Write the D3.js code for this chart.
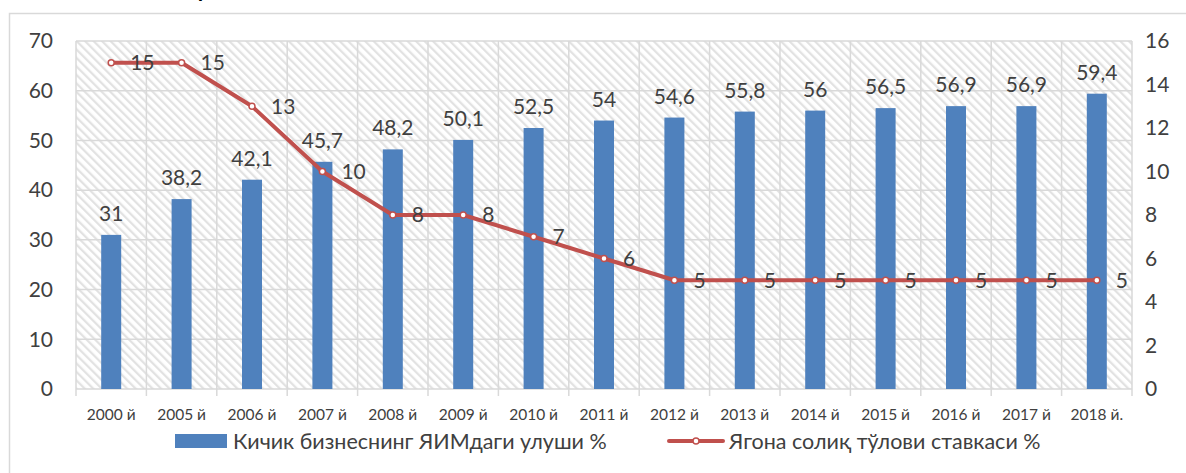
<!DOCTYPE html>
<html>
<head>
<meta charset="utf-8">
<script src="https://cdn.jsdelivr.net/npm/d3@7"></script>
<style>
  body { margin: 0; background: #fff; }
  text { font-family: Lato, "Open Sans", sans-serif; fill: #404040; }
</style>
</head>
<body>
<div id="graphicContainer"></div>
<script>

// chart data

var years = ["2000 й", "2005 й", "2006 й", "2007 й", "2008 й", "2009 й", "2010 й", "2011 й",
  "2012 й", "2013 й", "2014 й", "2015 й", "2016 й", "2017 й", "2018 й."];

var shareGdp = [31, 38.2, 42.1, 45.7, 48.2, 50.1, 52.5, 54, 54.6, 55.8, 56, 56.5, 56.9, 56.9, 59.4];

var taxRate = [15, 15, 13, 10, 8, 8, 7, 6, 5, 5, 5, 5, 5, 5, 5];

var leftTicks = [0, 10, 20, 30, 40, 50, 60, 70];
var rightTicks = [0, 2, 4, 6, 8, 10, 12, 14, 16];

var seriesNames = ["Кичик бизнеснинг ЯИМдаги улуши %", "Ягона солиқ тўлови ставкаси %"];

var barColour = "#4f81bd";
var lineColour = "#c0504d";
var gridColour = "#d9d9d9";

function fmt(v) {
  return String(v).replace(".", ",");
}

function draw_chart() {

  var width = 1186, height = 473;
  var margin = {top: 41, right: 54, bottom: 84, left: 76};

  var svg = d3.select("#graphicContainer").append("svg")
    .attr("width", width)
    .attr("height", height);

  // hatch pattern for the plot background (lines running down to the right)

  var defs = svg.append("defs");
  var pat = defs.append("pattern")
    .attr("id", "hatch")
    .attr("patternUnits", "userSpaceOnUse")
    .attr("width", 6)
    .attr("height", 6)
    .attr("patternTransform", "rotate(-45)");
  pat.append("rect").attr("width", 6).attr("height", 6).attr("fill", "#fff");
  pat.append("line")
    .attr("x1", 1).attr("y1", 0).attr("x2", 1).attr("y2", 6)
    .attr("stroke", "#e2e2e2")
    .attr("stroke-width", 2.5);

  // cut-off text from the page above the chart

  svg.append("text")
    .attr("x", 197).attr("y", -4)
    .attr("font-family", "Liberation Serif")
    .attr("font-size", 30)
    .style("fill", "#000")
    .text("р");

  // outer chart frame

  svg.append("rect")
    .attr("x", 9.5).attr("y", 13.5)
    .attr("width", 1200).attr("height", 500)
    .attr("fill", "none")
    .attr("stroke", "#d9d9d9")
    .attr("stroke-width", 1.5);

  var x = d3.scaleBand()
    .domain(years)
    .range([margin.left, width - margin.right]);

  var y = d3.scaleLinear()
    .domain([0, 70])
    .range([height - margin.bottom, margin.top]);

  var y2 = d3.scaleLinear()
    .domain([0, 16])
    .range([height - margin.bottom, margin.top]);

  var plotW = width - margin.right - margin.left;
  var plotH = height - margin.bottom - margin.top;

  svg.append("rect")
    .attr("x", margin.left)
    .attr("y", margin.top)
    .attr("width", plotW)
    .attr("height", plotH)
    .attr("fill", "url(#hatch)");

  // horizontal gridlines

  svg.append("g")
    .selectAll("line")
    .data(leftTicks)
    .enter()
    .append("line")
    .attr("x1", margin.left)
    .attr("x2", width - margin.right)
    .attr("y1", d => y(d))
    .attr("y2", d => y(d))
    .attr("stroke", gridColour)
    .attr("stroke-width", 1.5);

  // vertical gridlines at category boundaries, running past the axis as ticks

  var bounds = years.map(d => x(d)).concat([width - margin.right]);

  svg.append("g")
    .selectAll("line")
    .data(bounds)
    .enter()
    .append("line")
    .attr("x1", d => d)
    .attr("x2", d => d)
    .attr("y1", margin.top)
    .attr("y2", height - margin.bottom + 7)
    .attr("stroke", gridColour)
    .attr("stroke-width", 1.5);

  // axes labels

  svg.append("g")
    .selectAll("text")
    .data(leftTicks)
    .enter()
    .append("text")
    .attr("x", 53)
    .attr("y", d => y(d))
    .attr("dy", "0.35em")
    .attr("text-anchor", "end")
    .attr("font-size", 21)
    .text(d => d);

  svg.append("g")
    .selectAll("text")
    .data(rightTicks)
    .enter()
    .append("text")
    .attr("x", 1145)
    .attr("y", d => y2(d))
    .attr("dy", "0.35em")
    .attr("text-anchor", "start")
    .attr("font-size", 21)
    .text(d => d);

  svg.append("g")
    .selectAll("text")
    .data(years)
    .enter()
    .append("text")
    .attr("x", d => x(d) + x.bandwidth() / 2)
    .attr("y", 415)
    .attr("dy", "0.35em")
    .attr("text-anchor", "middle")
    .attr("font-size", 15.5)
    .text(d => d);

  // bars

  var barW = 20;

  svg.append("g")
    .selectAll("rect")
    .data(shareGdp)
    .enter()
    .append("rect")
    .attr("x", (d, i) => x(years[i]) + x.bandwidth() / 2 - barW / 2)
    .attr("y", d => y(d))
    .attr("width", barW)
    .attr("height", d => y(0) - y(d))
    .attr("fill", barColour);

  svg.append("g")
    .selectAll("text")
    .data(shareGdp)
    .enter()
    .append("text")
    .attr("x", (d, i) => x(years[i]) + x.bandwidth() / 2)
    .attr("y", d => y(d) - 14)
    .attr("text-anchor", "middle")
    .attr("font-size", 21)
    .text(d => fmt(d));

  // line series on the right axis

  var line = d3.line()
    .x((d, i) => x(years[i]) + x.bandwidth() / 2)
    .y(d => y2(d));

  svg.append("path")
    .datum(taxRate)
    .attr("d", line)
    .attr("fill", "none")
    .attr("stroke", lineColour)
    .attr("stroke-width", 4)
    .attr("stroke-linejoin", "round");

  svg.append("g")
    .selectAll("circle")
    .data(taxRate)
    .enter()
    .append("circle")
    .attr("cx", (d, i) => x(years[i]) + x.bandwidth() / 2)
    .attr("cy", d => y2(d))
    .attr("r", 3)
    .attr("fill", "#fff")
    .attr("stroke", lineColour)
    .attr("stroke-width", 1.5);

  svg.append("g")
    .selectAll("text")
    .data(taxRate)
    .enter()
    .append("text")
    .attr("x", (d, i) => x(years[i]) + x.bandwidth() / 2 + 19)
    .attr("y", d => y2(d))
    .attr("dy", "0.35em")
    .attr("text-anchor", "start")
    .attr("font-size", 21)
    .text(d => d);

  // legend

  var legend = svg.append("g");

  legend.append("rect")
    .attr("x", 175).attr("y", 434)
    .attr("width", 52).attr("height", 14)
    .attr("fill", barColour);

  legend.append("text")
    .attr("x", 233).attr("y", 441)
    .attr("dy", "0.35em")
    .attr("font-size", 21.5)
    .text(seriesNames[0]);

  legend.append("line")
    .attr("x1", 669).attr("x2", 723)
    .attr("y1", 441).attr("y2", 441)
    .attr("stroke", lineColour)
    .attr("stroke-width", 4)
    .attr("stroke-linecap", "round");

  legend.append("circle")
    .attr("cx", 696).attr("cy", 441)
    .attr("r", 3)
    .attr("fill", "#fff")
    .attr("stroke", lineColour)
    .attr("stroke-width", 1.5);

  legend.append("text")
    .attr("x", 729).attr("y", 441)
    .attr("dy", "0.35em")
    .attr("font-size", 21.5)
    .text(seriesNames[1]);
}

draw_chart();

</script>
</body>
</html>
